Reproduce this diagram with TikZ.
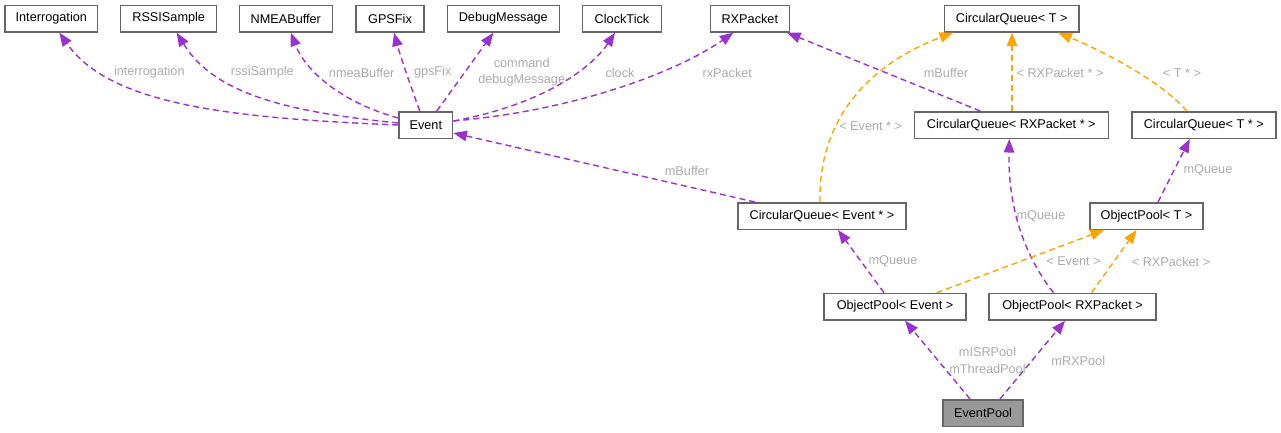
\documentclass[tikz,border=0pt]{standalone}
\usepackage{fontspec}
\setmainfont{Liberation Sans}
\usetikzlibrary{arrows.meta}
\definecolor{purp}{HTML}{9A32CD}
\definecolor{orng}{HTML}{FFA500}
\definecolor{bordergray}{HTML}{666666}
\definecolor{lblgray}{HTML}{ABABAB}
\definecolor{fillgray}{HTML}{999999}
\newcommand{\fsz}{\fontsize{12.7}{16.4}\selectfont}
\begin{document}
\begin{tikzpicture}[x=1pt,y=-1pt,
 box/.style={draw=bordergray, fill=white, line width=1.5pt, minimum height=26.5pt, inner sep=0pt, font=\fsz},
 usearrow/.style={draw=purp, line width=1.4pt, dash pattern=on 6pt off 4pt, -{Triangle[length=13.5pt,width=10.5pt]}},
 tmplarrow/.style={usearrow, draw=orng},
 lbl/.style={text=lblgray, font=\fsz, inner sep=0pt, align=center}]
\useasboundingbox[fill=white] (0,0) rectangle (1281,432);

% nodes
\node[box, minimum width=92.7pt] (Interrogation) at (51.3,18.7) {Interrogation};
\node[box, minimum width=96pt] (RSSISample) at (168.7,18.7) {RSSISample};
\node[box, minimum width=93pt] (NMEABuffer) at (285.8,18.7) {NMEABuffer};
\node[box, minimum width=68pt] (GPSFix) at (390,18.7) {GPSFix};
\node[box, minimum width=112pt] (DebugMessage) at (503.3,18.7) {DebugMessage};
\node[box, minimum width=79.3pt] (ClockTick) at (622,18.7) {ClockTick};
\node[box, minimum width=79pt] (RXPacket) at (749.8,18.7) {RXPacket};
\node[box, minimum width=134.7pt] (CQT) at (1011.7,18.7) {CircularQueue< T >};
\node[box, minimum width=53.7pt] (Event) at (425.8,125) {Event};
\node[box, minimum width=194pt] (CQRX) at (1011.3,125) {CircularQueue< RXPacket * >};
\node[box, minimum width=144pt] (CQTs) at (1203.8,125) {CircularQueue< T * >};
\node[box, minimum width=168pt] (CQE) at (822,216) {CircularQueue< Event * >};
\node[box, minimum width=113pt] (OPT) at (1146.5,216) {ObjectPool< T >};
\node[box, minimum width=142pt] (OPE) at (895,306.7) {ObjectPool< Event >};
\node[box, minimum width=167pt] (OPRX) at (1072.5,306.7) {ObjectPool< RXPacket >};
\node[box, minimum width=80pt, fill=fillgray] (EventPool) at (983,413) {EventPool};

% edges
\draw[usearrow] (Event.west) .. controls (230,118) and (110,105) .. ([xshift=8pt]Interrogation.south);
\draw[usearrow] ([yshift=2pt]Event.west) .. controls (290,112) and (215,95) .. ([xshift=8pt]RSSISample.south);
\draw[usearrow] ([yshift=7pt]Event.west) .. controls (340,102) and (305,70) .. ([xshift=5pt]NMEABuffer.south);
\draw[usearrow] ([xshift=-6pt]Event.north) .. controls (412,90) and (400,55) .. ([xshift=4pt]GPSFix.south);
\draw[usearrow] ([xshift=11pt]Event.north) -- ([xshift=-10pt]DebugMessage.south);
\draw[usearrow] ([yshift=4pt]Event.east) .. controls (540,105) and (590,70) .. ([xshift=-7pt]ClockTick.south);
\draw[usearrow] ([yshift=4pt]Event.east) .. controls (580,110) and (680,70) .. ([xshift=-16.5pt]RXPacket.south);
\draw[usearrow] ([xshift=-67pt]CQE.north) -- ([yshift=-8pt]Event.east);
\draw[usearrow] ([xshift=-31pt]CQRX.north) -- ([xshift=-3pt]RXPacket.south east);
\draw[tmplarrow] ([xshift=-2pt]CQE.north) .. controls (818,110) and (880,60) .. ([xshift=-58.7pt]CQT.south);
\draw[tmplarrow] ([xshift=0.7pt]CQRX.north) -- ([xshift=0.3pt]CQT.south);
\draw[tmplarrow] ([xshift=-17pt]CQTs.north) .. controls (1160,80) and (1100,50) .. ([xshift=46.6pt]CQT.south);
\draw[usearrow] ([xshift=11.5pt]OPT.north) -- ([xshift=-14pt]CQTs.south);
\draw[usearrow] ([xshift=-19pt]OPRX.north) .. controls (1020,250) and (1008,200) .. ([xshift=-2pt]CQRX.south);
\draw[usearrow] ([xshift=-11pt]OPE.north) -- ([xshift=16pt]CQE.south);
\draw[tmplarrow] ([xshift=41.7pt]OPE.north) -- ([xshift=-42.5pt]OPT.south);
\draw[tmplarrow] ([xshift=19pt]OPRX.north) -- ([xshift=-10pt]OPT.south);
\draw[usearrow] ([xshift=-13pt]EventPool.north) -- ([xshift=10pt]OPE.south);
\draw[usearrow] ([xshift=17pt]EventPool.north) -- ([xshift=-7.5pt]OPRX.south);

% labels
\node[lbl] (l1) at (149.3,72.7) {interrogation};
\node[lbl] (l2) at (262.3,72.7) {rssiSample};
\node[lbl] (l3) at (361.7,72.7) {nmeaBuffer};
\node[lbl] (l4) at (432.7,72.7) {gpsFix};
\node[lbl] (l5) at (521.7,72.5) {command\\debugMessage};
\node[lbl] (l6) at (620,72.7) {clock};
\node[lbl] (l7) at (727.3,72.7) {rxPacket};
\node[lbl] (l8) at (946,72.7) {mBuffer};
\node[lbl] (l9) at (1060,72.7) {< RXPacket * >};
\node[lbl] (l10) at (1182,72.7) {< T * >};
\node[lbl] (l11) at (687,170.7) {mBuffer};
\node[lbl] (l12) at (870.7,125.7) {< Event * >};
\node[lbl] (l13) at (1208,170.7) {mQueue};
\node[lbl] (l14) at (1041,216.7) {mQueue};
\node[lbl] (l15) at (893,261.7) {mQueue};
\node[lbl] (l16) at (1073.5,261.5) {< Event >};
\node[lbl] (l17) at (1171,261.5) {< RXPacket >};
\node[lbl] (l18) at (987.5,360.6) {mISRPool\\mThreadPool};
\node[lbl] (l19) at (1078.3,360.7) {mRXPool};
\end{tikzpicture}
\end{document}
